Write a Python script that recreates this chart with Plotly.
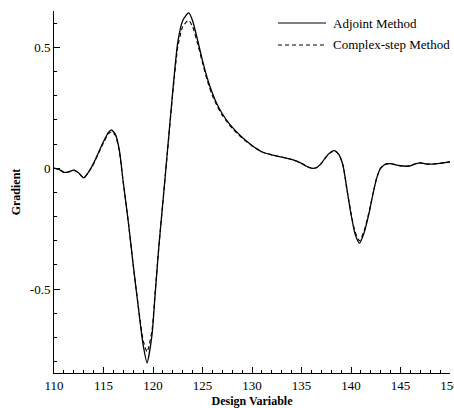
import plotly.graph_objects as go

# Design variable positions and gradient values
design_var = [110, 110.5, 111, 111.5, 112, 112.5, 113, 113.5, 114, 114.5, 115, 115.5, 115.8,
              116.2, 116.6, 117, 117.5, 118, 118.5, 119, 119.4, 119.9, 120.2, 120.6, 121,
              121.5, 122, 122.5, 123, 123.6, 124, 124.5, 125, 125.5, 126, 126.5, 127, 127.5,
              128, 128.5, 129, 129.5, 130, 130.5, 131, 132, 133, 134, 135, 135.5, 136, 136.5,
              137, 137.5, 138, 138.4, 138.8, 139.2, 139.6, 140, 140.4, 140.85, 141.3, 141.8,
              142.2, 142.6, 143, 143.5, 144, 144.5, 145, 145.5, 146, 146.5, 147, 147.5, 148,
              148.5, 149, 149.5, 150]

adjoint = [0.0, -0.005, -0.017, -0.015, -0.008, -0.02, -0.04, -0.015, 0.02, 0.065, 0.11, 0.148, 0.158,
           0.14, 0.075, -0.06, -0.22, -0.40, -0.57, -0.73, -0.805, -0.69, -0.53, -0.32, -0.14,
           0.09, 0.32, 0.52, 0.61, 0.642, 0.61, 0.53, 0.445, 0.37, 0.31, 0.262, 0.225, 0.195,
           0.17, 0.148, 0.128, 0.11, 0.094, 0.08, 0.068, 0.055, 0.046, 0.036, 0.02, 0.008, 0.0, 0.002,
           0.02, 0.048, 0.068, 0.072, 0.055, 0.01, -0.09, -0.19, -0.27, -0.31, -0.27, -0.19,
           -0.11, -0.04, 0.0, 0.017, 0.019, 0.014, 0.01, 0.008, 0.01, 0.018, 0.022, 0.018, 0.017,
           0.018, 0.02, 0.023, 0.026]

complex_step = [0.0, -0.005, -0.017, -0.015, -0.008, -0.02, -0.04, -0.016, 0.018, 0.062, 0.105, 0.142, 0.151,
                0.135, 0.07, -0.06, -0.22, -0.40, -0.565, -0.71, -0.76, -0.67, -0.52, -0.32, -0.14,
                0.085, 0.31, 0.5, 0.585, 0.612, 0.585, 0.515, 0.435, 0.36, 0.30, 0.255, 0.218, 0.19,
                0.165, 0.144, 0.125, 0.108, 0.092, 0.079, 0.067, 0.055, 0.046, 0.036, 0.02, 0.008, 0.0, 0.002,
                0.02, 0.047, 0.066, 0.07, 0.054, 0.01, -0.09, -0.185, -0.262, -0.30, -0.262, -0.185,
                -0.108, -0.04, 0.0, 0.017, 0.019, 0.014, 0.01, 0.008, 0.01, 0.018, 0.022, 0.018, 0.017,
                0.018, 0.02, 0.023, 0.026]

series_names = ["Adjoint Method", "Complex-step Method"]
x_ticks = [110, 115, 120, 125, 130, 135, 140, 145, 150]
y_ticks = [-0.5, 0, 0.5]
y_tick_labels = ["-0.5", "0", "0.5"]

W, H = 454, 408
ML, MR, MT, MB = 54, 4, 11, 35
FONT = "Liberation Serif, Times New Roman, serif"

fig = go.Figure()
fig.add_trace(go.Scatter(x=design_var, y=adjoint, mode="lines", name=series_names[0],
                         line=dict(color="black", width=1.3, shape="spline", smoothing=0.6),
                         showlegend=False))
fig.add_trace(go.Scatter(x=design_var, y=complex_step, mode="lines", name=series_names[1],
                         line=dict(color="black", width=1.1, dash="4px,3px", shape="spline", smoothing=0.6),
                         showlegend=False))

def px_x(p):
    return (p - ML) / (W - ML - MR)

def px_y(p):
    return (H - MB - p) / (H - MT - MB)

# manual legend (line sample + label)
legend_rows = [(23, "solid"), (45, "4px,3px")]
for (ry, dash), name in zip(legend_rows, series_names):
    fig.add_shape(type="line", xref="paper", yref="paper",
                  x0=px_x(278), x1=px_x(326), y0=px_y(ry), y1=px_y(ry),
                  line=dict(color="black", width=1.1, dash=dash))
    fig.add_annotation(xref="paper", yref="paper", x=px_x(331), y=px_y(ry),
                       text=name, showarrow=False, xanchor="left", yanchor="middle",
                       font=dict(family=FONT, size=13, color="black"))

fig.update_layout(
    width=W, height=H,
    margin=dict(l=ML, r=MR, t=MT, b=MB, autoexpand=False),
    paper_bgcolor="white", plot_bgcolor="white",
    font=dict(family=FONT, size=13, color="black"),
    showlegend=False,
)
fig.update_xaxes(range=[110, 150], tickvals=x_ticks, ticktext=[str(v) for v in x_ticks],
                 showgrid=False, zeroline=False, showline=True, linecolor="black", linewidth=1,
                 ticks="inside", ticklen=6, tickwidth=1, tickcolor="black",
                 minor=dict(ticks="inside", ticklen=3, dtick=1, tick0=110, tickcolor="black", showgrid=False),
                 tickfont=dict(family=FONT, size=13), automargin=False, ticklabeloverflow="allow",
                 title=dict(text="<b>Design Variable</b>", font=dict(family=FONT, size=12), standoff=8))
fig.update_yaxes(range=[-0.847, 0.65], tickvals=y_ticks, ticktext=y_tick_labels,
                 showgrid=False, zeroline=False, showline=True, linecolor="black", linewidth=1,
                 ticks="inside", ticklen=6, tickwidth=1, tickcolor="black",
                 minor=dict(ticks="inside", ticklen=3, dtick=0.1, tick0=0, tickcolor="black", showgrid=False),
                 tickfont=dict(family=FONT, size=13), automargin=False,
                 title=dict(text="<b>Gradient</b>", font=dict(family=FONT, size=12), standoff=6))

fig.write_html("out.html")
